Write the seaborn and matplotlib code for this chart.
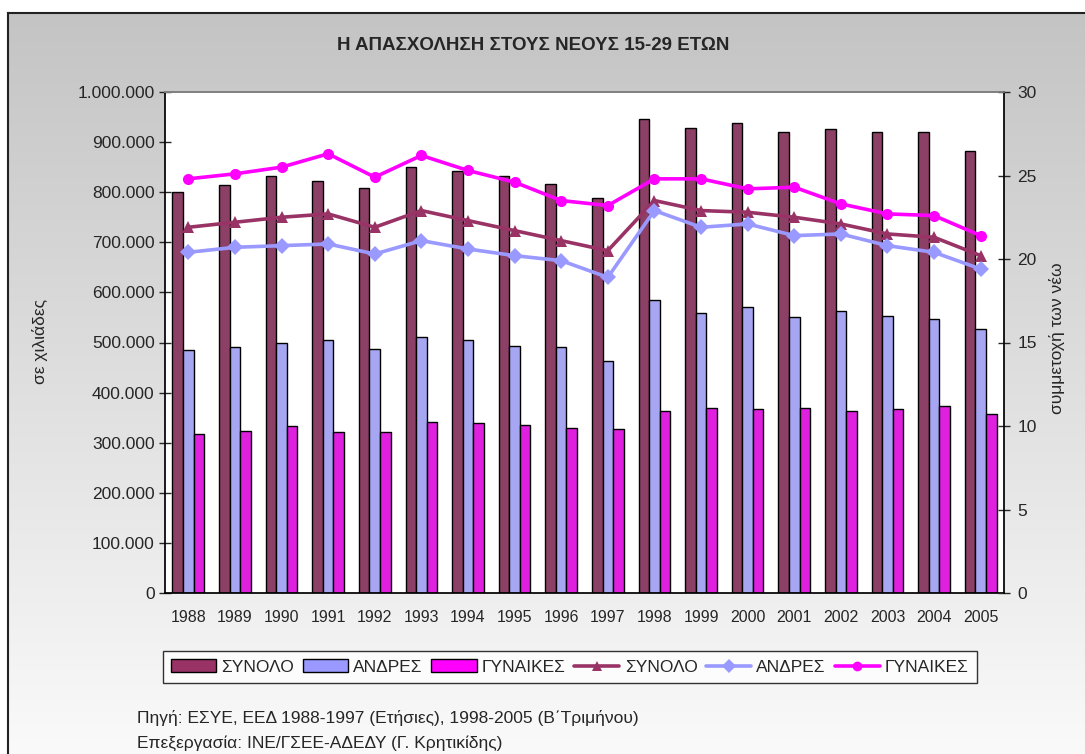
import numpy as np
import pandas as pd
import seaborn as sns
import matplotlib.pyplot as plt
from matplotlib.patches import Patch
from matplotlib.lines import Line2D
from matplotlib.ticker import FuncFormatter, MultipleLocator

# data
years = [str(y) for y in range(1988, 2006)]
total = [801000, 814000, 832000, 823000, 808000, 851000, 842000, 832000, 817000,
         789000, 947000, 929000, 938000, 920000, 926000, 920000, 920000, 882000]
men = [485000, 492000, 500000, 504000, 488000, 510000, 504000, 494000, 492000,
       463000, 584000, 559000, 571000, 550000, 563000, 553000, 547000, 526000]
women = [317000, 324000, 333000, 321000, 321000, 342000, 340000, 336000, 330000,
         327000, 364000, 370000, 367000, 370000, 364000, 367000, 373000, 358000]

share_total = [21.9, 22.2, 22.5, 22.7, 21.9, 22.9, 22.3, 21.7, 21.1,
               20.5, 23.5, 22.9, 22.8, 22.5, 22.1, 21.5, 21.3, 20.2]
share_men = [20.4, 20.7, 20.8, 20.9, 20.3, 21.1, 20.6, 20.2, 19.9,
             18.9, 22.9, 21.9, 22.1, 21.4, 21.5, 20.8, 20.4, 19.4]
share_women = [24.8, 25.1, 25.5, 26.3, 24.9, 26.2, 25.3, 24.6, 23.5,
               23.2, 24.8, 24.8, 24.2, 24.3, 23.3, 22.7, 22.6, 21.4]

series = ['ΣΥΝΟΛΟ', 'ΑΝΔΡΕΣ', 'ΓΥΝΑΙΚΕΣ']
colors = ['#993366', '#9999FF', '#FF00FF']
markers = ['^', 'D', 'o']

bars = pd.DataFrame({'year': years, 'ΣΥΝΟΛΟ': total, 'ΑΝΔΡΕΣ': men, 'ΓΥΝΑΙΚΕΣ': women})
bars_long = bars.melt(id_vars='year', var_name='series', value_name='value')

shares = pd.DataFrame({'pos': np.arange(len(years)), 'ΣΥΝΟΛΟ': share_total,
                       'ΑΝΔΡΕΣ': share_men, 'ΓΥΝΑΙΚΕΣ': share_women})

sns.set_theme(style='white')
plt.rcParams['font.family'] = ['Liberation Sans', 'DejaVu Sans']

W, H = 1085, 754
fig = plt.figure(figsize=(W / 100, H / 100), dpi=100)
fig.patch.set_facecolor('white')

# gradient chart-area background with border on top/left
bg = fig.add_axes([8 / W, 0, 1 - 8 / W, 1 - 13 / H], zorder=-5)
grad = np.linspace(0, 1, 256).reshape(-1, 1)
bg.imshow(grad, aspect='auto', cmap=plt.cm.colors.LinearSegmentedColormap.from_list(
    'g', ['#C4C4C4', '#FAFAFA']), extent=[0, 1, 0, 1], origin='upper')
bg.set_xticks([])
bg.set_yticks([])
for side in ['right', 'bottom']:
    bg.spines[side].set_visible(False)
for side in ['left', 'top']:
    bg.spines[side].set_color('#222222')
    bg.spines[side].set_linewidth(1.5)

ax = fig.add_axes([165 / W, 1 - 593 / H, (1004 - 165) / W, (593 - 92) / H])
ax.set_facecolor('white')
sns.barplot(data=bars_long, x='year', y='value', hue='series', palette=colors,
            width=0.68, edgecolor='black', linewidth=1.0, legend=False, ax=ax)
ax.set_ylim(0, 1000000)
ax.set_xlim(-0.5, len(years) - 0.5)
ax.yaxis.set_major_locator(MultipleLocator(100000))
ax.yaxis.set_major_formatter(FuncFormatter(lambda v, p: f'{int(v):,}'.replace(',', '.')))
ax.set_xlabel('')
ax.set_ylabel('')
ax.tick_params(axis='y', direction='inout', length=9, width=1, labelsize=12.5, pad=3)
ax.tick_params(axis='x', which='major', length=0, labelsize=11.5, pad=12)
ax.set_xticks(np.arange(-0.5, len(years), 1.0), minor=True)
ax.tick_params(axis='x', which='minor', direction='inout', length=8, width=1)
for side in ['left', 'bottom']:
    ax.spines[side].set_color('black')
ax.spines['top'].set_color('#808080')
ax.spines['right'].set_visible(False)

ax2 = ax.twinx()
for name, c, m in zip(series, colors, markers):
    sns.lineplot(data=shares, x='pos', y=name, color=c, marker=m, markersize=8,
                 markeredgecolor=c, markeredgewidth=0, linewidth=2.6, ax=ax2)
ax2.set_ylim(0, 30)
ax2.yaxis.set_major_locator(MultipleLocator(5))
ax2.set_ylabel('')
ax2.tick_params(axis='y', direction='inout', length=9, width=1, labelsize=12.5, pad=5)
ax2.spines['right'].set_color('black')
ax2.spines['top'].set_color('#808080')
ax2.spines['left'].set_visible(False)
ax2.spines['bottom'].set_visible(False)

fig.text(533 / W, 1 - 45 / H, 'Η ΑΠΑΣΧΟΛΗΣΗ ΣΤΟΥΣ ΝΕΟΥΣ 15-29 ΕΤΩΝ',
         ha='center', va='center', fontsize=13.5, fontweight='bold')
fig.text(40 / W, 1 - 341 / H, 'σε χιλιάδες', rotation=90, ha='center', va='center', fontsize=12.5)
fig.text(1057 / W, 1 - 338 / H, 'συμμετοχή των νέω', rotation=90, ha='center', va='center', fontsize=12.5)

handles = [Patch(facecolor=c, edgecolor='black', linewidth=1.0) for c in colors]
handles += [Line2D([], [], color=c, marker=m, markersize=7, linewidth=2.6,
                   markeredgewidth=0) for c, m in zip(colors, markers)]
leg = fig.legend(handles, series + series, loc='center', ncol=6,
                 bbox_to_anchor=(570 / W, 1 - 667 / H), frameon=True, fontsize=12.5,
                 handlelength=2.6, handleheight=0.8, handletextpad=0.3, columnspacing=0.5,
                 fancybox=False, borderpad=0.45, borderaxespad=0)
leg.get_frame().set_edgecolor('black')
leg.get_frame().set_linewidth(1)
leg.get_frame().set_facecolor('white')

fig.text(137 / W, 1 - 718 / H, 'Πηγή: ΕΣΥΕ, ΕΕΔ 1988-1997 (Ετήσιες), 1998-2005 (Β΄Τριμήνου)',
         ha='left', va='center', fontsize=12.5)
fig.text(137 / W, 1 - 743 / H, 'Επεξεργασία: ΙΝΕ/ΓΣΕΕ-ΑΔΕΔΥ (Γ. Κρητικίδης)',
         ha='left', va='center', fontsize=12.5)

fig.savefig('out.png', dpi=100)
